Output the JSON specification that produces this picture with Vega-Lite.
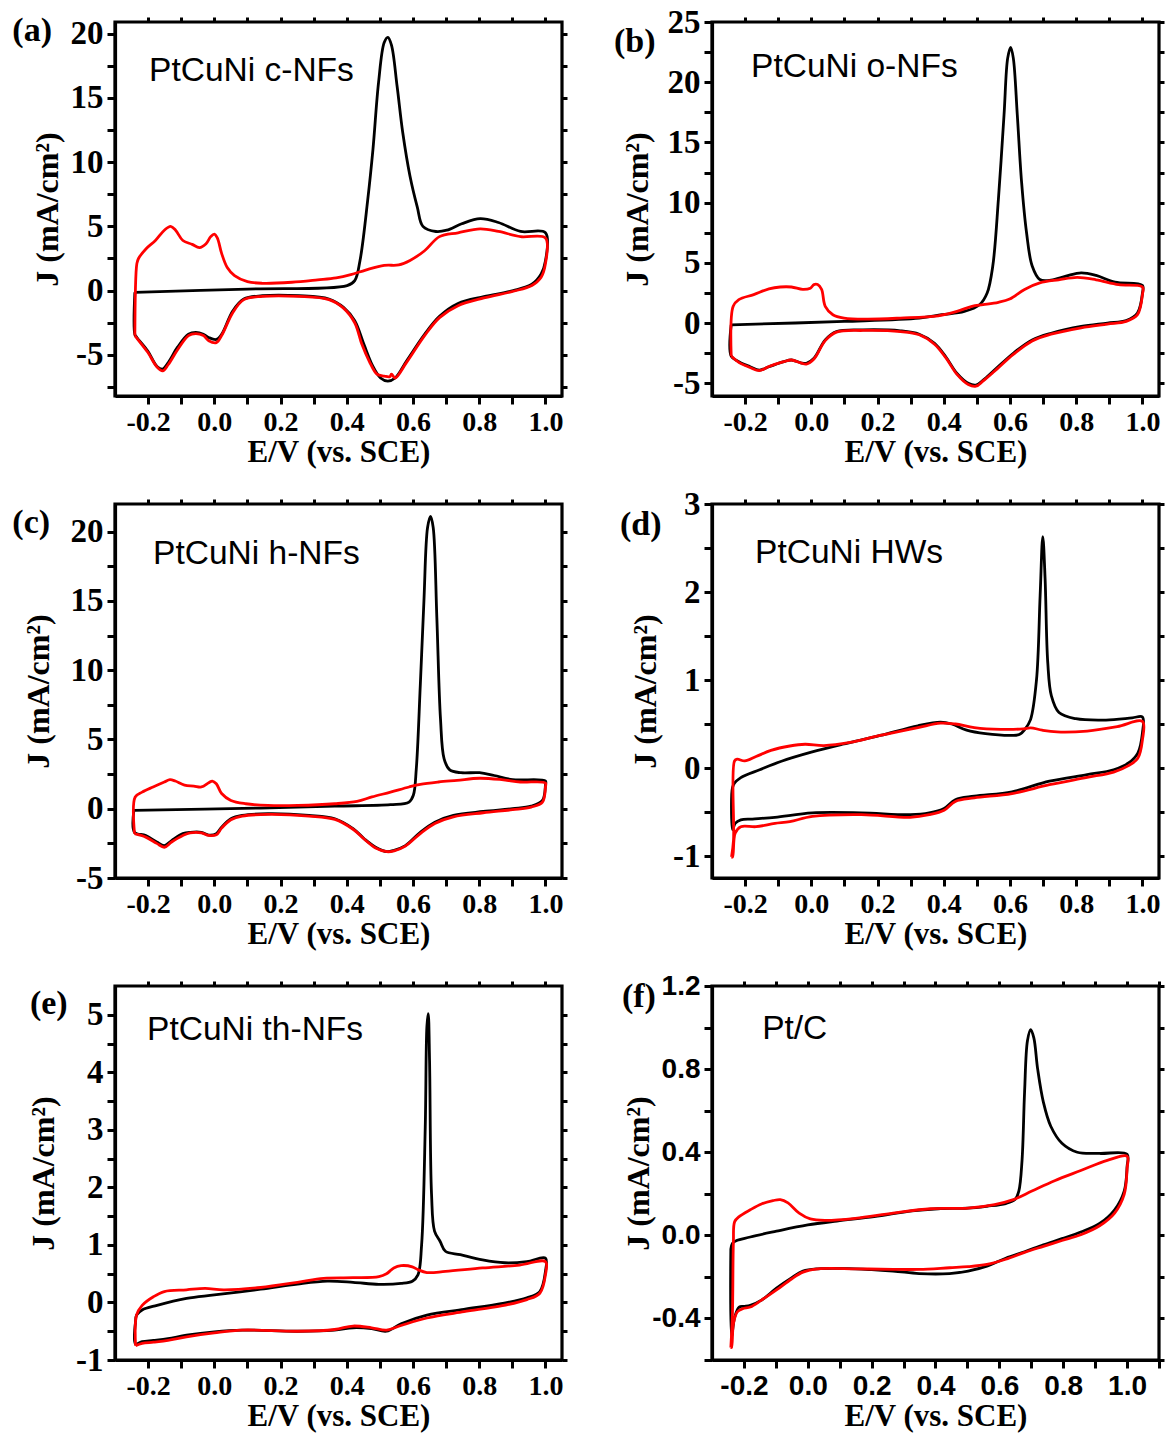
{
"$schema": "https://vega.github.io/schema/vega-lite/v6.json",
"background": "white",
"padding": {"left": 10, "top": 4, "right": 5, "bottom": 5},
"bounds": "flush",
"columns": 2,
"spacing": {"row": 108, "column": 150},
"config": {
 "view": {"stroke": "#000000", "strokeWidth": 3.2},
 "line": {"interpolate": "catmull-rom"},
 "axis": {"grid": false, "domainColor": "#000000", "domainWidth": 3.2, "tickColor": "#000000", "tickWidth": 3, "tickSize": 8,
  "labelFont": "Liberation Serif", "labelFontWeight": "bold", "labelFontSize": 28, "labelColor": "#000000", "labelPadding": 4, "labelOverlap": false, "labelFlush": false,
  "titleFont": "Liberation Serif", "titleFontWeight": "bold", "titleFontSize": 31, "titleColor": "#000000", "titlePadding": 1},
 "axisY": {"labelFontSize": 33, "titleFontSize": 32}
},
"datasets": {
 "ak": [{"e":-0.24,"j":-0.13},{"e":0.1,"j":0.12},{"e":0.401,"j":0.39},{"e":0.424,"j":0.78},{"e":0.44,"j":2.35},{"e":0.463,"j":7.0},{"e":0.479,"j":10.97},{"e":0.496,"j":16.2},{"e":0.513,"j":19.3},{"e":0.524,"j":19.7},{"e":0.535,"j":19.1},{"e":0.552,"j":15.9},{"e":0.569,"j":12.3},{"e":0.591,"j":8.9},{"e":0.613,"j":6.5},{"e":0.63,"j":5.0},{"e":0.669,"j":4.6},{"e":0.702,"j":4.7},{"e":0.747,"j":5.2},{"e":0.803,"j":5.6},{"e":0.858,"j":5.3},{"e":0.925,"j":4.6},{"e":1.0,"j":4.5},{"e":1.0,"j":2.3},{"e":0.987,"j":1.3},{"e":0.959,"j":0.5},{"e":0.903,"j":0.0},{"e":0.814,"j":-0.47},{"e":0.736,"j":-1.0},{"e":0.68,"j":-2.0},{"e":0.635,"j":-3.4},{"e":0.58,"j":-5.5},{"e":0.546,"j":-6.8},{"e":0.524,"j":-7.05},{"e":0.502,"j":-6.8},{"e":0.479,"j":-5.9},{"e":0.452,"j":-4.2},{"e":0.424,"j":-2.35},{"e":0.39,"j":-1.3},{"e":0.346,"j":-0.65},{"e":0.256,"j":-0.4},{"e":0.145,"j":-0.4},{"e":0.089,"j":-0.65},{"e":0.056,"j":-1.57},{"e":0.022,"j":-3.4},{"e":0.006,"j":-3.8},{"e":-0.017,"j":-3.65},{"e":-0.033,"j":-3.4},{"e":-0.056,"j":-3.26},{"e":-0.078,"j":-3.4},{"e":-0.111,"j":-4.4},{"e":-0.139,"j":-5.6},{"e":-0.156,"j":-6.1},{"e":-0.173,"j":-5.9},{"e":-0.201,"j":-4.7},{"e":-0.234,"j":-3.65},{"e":-0.24,"j":-3.4},{"e":-0.24,"j":-0.13}],
 "ar": [{"e":-0.24,"j":-3.5},{"e":-0.234,"j":2.1},{"e":-0.229,"j":2.5},{"e":-0.206,"j":3.26},{"e":-0.178,"j":3.9},{"e":-0.151,"j":4.7},{"e":-0.132,"j":5.0},{"e":-0.117,"j":4.7},{"e":-0.095,"j":3.9},{"e":-0.067,"j":3.6},{"e":-0.045,"j":3.35},{"e":-0.025,"j":3.65},{"e":-0.011,"j":4.2},{"e":0.0,"j":4.4},{"e":0.009,"j":4.1},{"e":0.022,"j":2.9},{"e":0.039,"j":1.8},{"e":0.061,"j":1.17},{"e":0.1,"j":0.7},{"e":0.145,"j":0.57},{"e":0.234,"j":0.65},{"e":0.312,"j":0.84},{"e":0.368,"j":1.0},{"e":0.412,"j":1.25},{"e":0.457,"j":1.6},{"e":0.513,"j":1.96},{"e":0.557,"j":2.0},{"e":0.591,"j":2.35},{"e":0.635,"j":3.1},{"e":0.68,"j":4.2},{"e":0.736,"j":4.5},{"e":0.803,"j":4.8},{"e":0.858,"j":4.6},{"e":0.925,"j":4.2},{"e":1.0,"j":4.1},{"e":1.0,"j":2.1},{"e":0.987,"j":1.04},{"e":0.959,"j":0.4},{"e":0.903,"j":-0.05},{"e":0.814,"j":-0.57},{"e":0.736,"j":-1.17},{"e":0.68,"j":-2.1},{"e":0.635,"j":-3.5},{"e":0.58,"j":-5.6},{"e":0.546,"j":-6.8},{"e":0.535,"j":-6.5},{"e":0.53,"j":-6.7},{"e":0.513,"j":-6.65},{"e":0.491,"j":-6.5},{"e":0.468,"j":-5.5},{"e":0.446,"j":-4.2},{"e":0.424,"j":-2.5},{"e":0.39,"j":-1.36},{"e":0.346,"j":-0.7},{"e":0.256,"j":-0.45},{"e":0.145,"j":-0.45},{"e":0.089,"j":-0.7},{"e":0.056,"j":-1.7},{"e":0.022,"j":-3.5},{"e":0.006,"j":-4.05},{"e":-0.017,"j":-3.9},{"e":-0.033,"j":-3.5},{"e":-0.056,"j":-3.35},{"e":-0.078,"j":-3.5},{"e":-0.111,"j":-4.6},{"e":-0.139,"j":-5.75},{"e":-0.156,"j":-6.25},{"e":-0.173,"j":-5.95},{"e":-0.201,"j":-4.8},{"e":-0.234,"j":-3.7},{"e":-0.24,"j":-3.5}],
 "bk": [{"e":-0.242,"j":-0.14},{"e":0.099,"j":0.14},{"e":0.326,"j":0.42},{"e":0.394,"j":0.7},{"e":0.462,"j":0.97},{"e":0.508,"j":1.53},{"e":0.531,"j":2.5},{"e":0.548,"j":4.74},{"e":0.565,"j":10.3},{"e":0.582,"j":17.3},{"e":0.593,"j":22.0},{"e":0.602,"j":22.9},{"e":0.61,"j":22.0},{"e":0.622,"j":17.3},{"e":0.635,"j":11.7},{"e":0.65,"j":7.5},{"e":0.667,"j":4.74},{"e":0.69,"j":3.62},{"e":0.724,"j":3.57},{"e":0.769,"j":3.9},{"e":0.815,"j":4.18},{"e":0.86,"j":3.96},{"e":0.917,"j":3.4},{"e":1.0,"j":3.12},{"e":1.0,"j":2.5},{"e":0.985,"j":0.84},{"e":0.951,"j":0.22},{"e":0.894,"j":0.0},{"e":0.815,"j":-0.28},{"e":0.724,"j":-0.84},{"e":0.667,"j":-1.39},{"e":0.61,"j":-2.5},{"e":0.553,"j":-3.9},{"e":0.519,"j":-4.74},{"e":0.497,"j":-5.15},{"e":0.474,"j":-5.0},{"e":0.44,"j":-4.18},{"e":0.406,"j":-2.79},{"e":0.372,"j":-1.67},{"e":0.326,"j":-0.92},{"e":0.269,"j":-0.64},{"e":0.156,"j":-0.56},{"e":0.076,"j":-0.7},{"e":0.042,"j":-1.39},{"e":0.008,"j":-2.92},{"e":-0.015,"j":-3.34},{"e":-0.032,"j":-3.29},{"e":-0.06,"j":-3.06},{"e":-0.083,"j":-3.2},{"e":-0.128,"j":-3.62},{"e":-0.157,"j":-3.9},{"e":-0.185,"j":-3.62},{"e":-0.219,"j":-3.2},{"e":-0.242,"j":-2.73},{"e":-0.242,"j":-0.14}],
 "br": [{"e":-0.242,"j":-2.73},{"e":-0.236,"j":1.4},{"e":-0.219,"j":1.95},{"e":-0.174,"j":2.37},{"e":-0.128,"j":2.84},{"e":-0.094,"j":3.0},{"e":-0.06,"j":3.0},{"e":-0.026,"j":2.8},{"e":-0.003,"j":2.9},{"e":0.008,"j":3.2},{"e":0.019,"j":3.2},{"e":0.031,"j":2.8},{"e":0.042,"j":1.4},{"e":0.065,"j":0.7},{"e":0.099,"j":0.42},{"e":0.167,"j":0.33},{"e":0.269,"j":0.42},{"e":0.383,"j":0.61},{"e":0.44,"j":0.97},{"e":0.485,"j":1.4},{"e":0.519,"j":1.53},{"e":0.565,"j":1.73},{"e":0.599,"j":2.0},{"e":0.644,"j":2.8},{"e":0.69,"j":3.34},{"e":0.747,"j":3.6},{"e":0.803,"j":3.8},{"e":0.86,"j":3.6},{"e":0.928,"j":3.2},{"e":1.0,"j":3.0},{"e":1.0,"j":2.37},{"e":0.985,"j":0.7},{"e":0.951,"j":0.14},{"e":0.894,"j":-0.08},{"e":0.815,"j":-0.39},{"e":0.724,"j":-0.92},{"e":0.667,"j":-1.48},{"e":0.61,"j":-2.6},{"e":0.553,"j":-4.0},{"e":0.519,"j":-4.8},{"e":0.497,"j":-5.24},{"e":0.474,"j":-5.1},{"e":0.44,"j":-4.26},{"e":0.406,"j":-2.87},{"e":0.372,"j":-1.75},{"e":0.326,"j":-0.97},{"e":0.269,"j":-0.7},{"e":0.156,"j":-0.61},{"e":0.076,"j":-0.75},{"e":0.042,"j":-1.45},{"e":0.008,"j":-2.98},{"e":-0.015,"j":-3.4},{"e":-0.032,"j":-3.3},{"e":-0.06,"j":-3.06},{"e":-0.083,"j":-3.2},{"e":-0.128,"j":-3.6},{"e":-0.157,"j":-3.95},{"e":-0.185,"j":-3.68},{"e":-0.219,"j":-3.26},{"e":-0.242,"j":-2.73}],
 "ck": [{"e":-0.243,"j":-0.12},{"e":0.14,"j":0.05},{"e":0.364,"j":0.19},{"e":0.532,"j":0.29},{"e":0.588,"j":0.48},{"e":0.601,"j":0.97},{"e":0.61,"j":2.9},{"e":0.622,"j":8.9},{"e":0.633,"j":15.0},{"e":0.644,"j":20.3},{"e":0.653,"j":21.1},{"e":0.661,"j":20.3},{"e":0.672,"j":13.8},{"e":0.683,"j":6.5},{"e":0.694,"j":3.6},{"e":0.711,"j":2.8},{"e":0.745,"j":2.6},{"e":0.801,"j":2.6},{"e":0.845,"j":2.4},{"e":0.901,"j":2.1},{"e":1.0,"j":2.0},{"e":1.0,"j":1.7},{"e":0.991,"j":0.6},{"e":0.957,"j":0.19},{"e":0.901,"j":0.0},{"e":0.812,"j":-0.2},{"e":0.722,"j":-0.48},{"e":0.666,"j":-0.97},{"e":0.622,"j":-1.7},{"e":0.577,"j":-2.66},{"e":0.543,"j":-3.0},{"e":0.521,"j":-3.1},{"e":0.487,"j":-2.78},{"e":0.454,"j":-2.2},{"e":0.42,"j":-1.45},{"e":0.364,"j":-0.72},{"e":0.286,"j":-0.48},{"e":0.162,"j":-0.36},{"e":0.084,"j":-0.48},{"e":0.05,"j":-0.72},{"e":0.022,"j":-1.33},{"e":0.006,"j":-1.8},{"e":-0.017,"j":-1.9},{"e":-0.039,"j":-1.7},{"e":-0.073,"j":-1.7},{"e":-0.095,"j":-1.8},{"e":-0.129,"j":-2.3},{"e":-0.151,"j":-2.66},{"e":-0.174,"j":-2.4},{"e":-0.207,"j":-1.93},{"e":-0.241,"j":-1.7},{"e":-0.243,"j":-0.12}],
 "cr": [{"e":-0.241,"j":-1.8},{"e":-0.239,"j":0.85},{"e":-0.218,"j":1.2},{"e":-0.185,"j":1.57},{"e":-0.151,"j":1.93},{"e":-0.134,"j":2.1},{"e":-0.118,"j":2.0},{"e":-0.09,"j":1.7},{"e":-0.062,"j":1.64},{"e":-0.039,"j":1.57},{"e":-0.017,"j":1.88},{"e":-0.006,"j":2.0},{"e":0.006,"j":1.8},{"e":0.022,"j":1.1},{"e":0.05,"j":0.6},{"e":0.095,"j":0.36},{"e":0.162,"j":0.24},{"e":0.252,"j":0.24},{"e":0.364,"j":0.36},{"e":0.431,"j":0.53},{"e":0.476,"j":0.85},{"e":0.532,"j":1.2},{"e":0.588,"j":1.57},{"e":0.622,"j":1.76},{"e":0.677,"j":1.93},{"e":0.733,"j":2.05},{"e":0.801,"j":2.2},{"e":0.868,"j":2.1},{"e":0.924,"j":1.93},{"e":1.0,"j":1.86},{"e":1.0,"j":1.57},{"e":0.991,"j":0.48},{"e":0.957,"j":0.12},{"e":0.901,"j":-0.07},{"e":0.812,"j":-0.29},{"e":0.722,"j":-0.58},{"e":0.666,"j":-1.06},{"e":0.622,"j":-1.79},{"e":0.577,"j":-2.7},{"e":0.543,"j":-3.04},{"e":0.521,"j":-3.1},{"e":0.487,"j":-2.83},{"e":0.454,"j":-2.22},{"e":0.42,"j":-1.5},{"e":0.364,"j":-0.77},{"e":0.286,"j":-0.53},{"e":0.162,"j":-0.41},{"e":0.084,"j":-0.53},{"e":0.05,"j":-0.8},{"e":0.022,"j":-1.4},{"e":0.006,"j":-1.88},{"e":-0.017,"j":-1.93},{"e":-0.039,"j":-1.74},{"e":-0.073,"j":-1.74},{"e":-0.095,"j":-1.93},{"e":-0.129,"j":-2.4},{"e":-0.151,"j":-2.78},{"e":-0.174,"j":-2.5},{"e":-0.207,"j":-2.05},{"e":-0.241,"j":-1.8}],
 "dk": [{"e":-0.241,"j":-0.36},{"e":-0.235,"j":-0.19},{"e":-0.213,"j":-0.11},{"e":-0.156,"j":-0.02},{"e":-0.088,"j":0.08},{"e":0.0,"j":0.18},{"e":0.094,"j":0.27},{"e":0.208,"j":0.37},{"e":0.322,"j":0.48},{"e":0.39,"j":0.52},{"e":0.424,"j":0.5},{"e":0.469,"j":0.43},{"e":0.526,"j":0.39},{"e":0.606,"j":0.37},{"e":0.628,"j":0.38},{"e":0.645,"j":0.44},{"e":0.662,"j":0.55},{"e":0.68,"j":1.0},{"e":0.691,"j":1.96},{"e":0.699,"j":2.63},{"e":0.706,"j":2.15},{"e":0.714,"j":1.2},{"e":0.725,"j":0.82},{"e":0.748,"j":0.63},{"e":0.799,"j":0.56},{"e":0.89,"j":0.545},{"e":0.969,"j":0.57},{"e":1.0,"j":0.58},{"e":1.0,"j":0.4},{"e":0.986,"j":0.17},{"e":0.958,"j":0.057},{"e":0.913,"j":-0.02},{"e":0.833,"j":-0.076},{"e":0.719,"j":-0.15},{"e":0.606,"j":-0.27},{"e":0.492,"j":-0.32},{"e":0.435,"j":-0.36},{"e":0.401,"j":-0.46},{"e":0.356,"j":-0.51},{"e":0.299,"j":-0.53},{"e":0.151,"j":-0.51},{"e":0.003,"j":-0.51},{"e":-0.11,"j":-0.56},{"e":-0.178,"j":-0.58},{"e":-0.213,"j":-0.59},{"e":-0.23,"j":-0.63},{"e":-0.238,"j":-0.7},{"e":-0.241,"j":-0.36}],
 "dr": [{"e":-0.241,"j":-1.01},{"e":-0.235,"j":-0.82},{"e":-0.232,"j":0.08},{"e":-0.224,"j":0.1},{"e":-0.201,"j":0.08},{"e":-0.167,"j":0.13},{"e":-0.122,"j":0.2},{"e":-0.065,"j":0.25},{"e":-0.019,"j":0.27},{"e":0.038,"j":0.255},{"e":0.117,"j":0.29},{"e":0.208,"j":0.37},{"e":0.322,"j":0.46},{"e":0.39,"j":0.51},{"e":0.435,"j":0.5},{"e":0.492,"j":0.46},{"e":0.572,"j":0.44},{"e":0.64,"j":0.445},{"e":0.662,"j":0.457},{"e":0.697,"j":0.43},{"e":0.742,"j":0.41},{"e":0.833,"j":0.42},{"e":0.924,"j":0.47},{"e":1.0,"j":0.53},{"e":1.0,"j":0.32},{"e":0.986,"j":0.11},{"e":0.958,"j":0.027},{"e":0.913,"j":-0.046},{"e":0.833,"j":-0.107},{"e":0.719,"j":-0.19},{"e":0.606,"j":-0.29},{"e":0.492,"j":-0.34},{"e":0.435,"j":-0.38},{"e":0.401,"j":-0.48},{"e":0.356,"j":-0.53},{"e":0.299,"j":-0.56},{"e":0.151,"j":-0.53},{"e":0.003,"j":-0.55},{"e":-0.065,"j":-0.61},{"e":-0.11,"j":-0.63},{"e":-0.167,"j":-0.667},{"e":-0.213,"j":-0.667},{"e":-0.23,"j":-0.74},{"e":-0.238,"j":-1.01},{"e":-0.241,"j":-1.01}],
 "ek": [{"e":-0.238,"j":-0.34},{"e":-0.235,"j":-0.22},{"e":-0.218,"j":-0.13},{"e":-0.173,"j":-0.05},{"e":-0.084,"j":0.07},{"e":0.0,"j":0.13},{"e":0.14,"j":0.23},{"e":0.251,"j":0.32},{"e":0.341,"j":0.37},{"e":0.419,"j":0.35},{"e":0.497,"j":0.315},{"e":0.564,"j":0.33},{"e":0.598,"j":0.37},{"e":0.615,"j":0.48},{"e":0.626,"j":1.0},{"e":0.637,"j":3.05},{"e":0.642,"j":4.8},{"e":0.646,"j":5.02},{"e":0.65,"j":4.2},{"e":0.656,"j":1.88},{"e":0.665,"j":1.24},{"e":0.682,"j":1.06},{"e":0.698,"j":0.89},{"e":0.743,"j":0.83},{"e":0.81,"j":0.74},{"e":0.877,"j":0.69},{"e":0.944,"j":0.71},{"e":1.0,"j":0.77},{"e":1.0,"j":0.54},{"e":0.983,"j":0.19},{"e":0.944,"j":0.08},{"e":0.866,"j":-0.02},{"e":0.754,"j":-0.12},{"e":0.642,"j":-0.22},{"e":0.564,"j":-0.37},{"e":0.52,"j":-0.5},{"e":0.475,"j":-0.455},{"e":0.419,"j":-0.44},{"e":0.363,"j":-0.48},{"e":0.251,"j":-0.5},{"e":0.084,"j":-0.48},{"e":0.0,"j":-0.51},{"e":-0.084,"j":-0.57},{"e":-0.14,"j":-0.63},{"e":-0.184,"j":-0.66},{"e":-0.218,"j":-0.68},{"e":-0.238,"j":-0.72},{"e":-0.238,"j":-0.34}],
 "er": [{"e":-0.238,"j":-0.75},{"e":-0.235,"j":-0.22},{"e":-0.218,"j":-0.05},{"e":-0.184,"j":0.1},{"e":-0.151,"j":0.19},{"e":-0.084,"j":0.22},{"e":-0.028,"j":0.245},{"e":0.028,"j":0.22},{"e":0.14,"j":0.26},{"e":0.251,"j":0.35},{"e":0.33,"j":0.42},{"e":0.419,"j":0.43},{"e":0.497,"j":0.45},{"e":0.52,"j":0.5},{"e":0.542,"j":0.6},{"e":0.564,"j":0.64},{"e":0.598,"j":0.62},{"e":0.615,"j":0.57},{"e":0.642,"j":0.52},{"e":0.698,"j":0.54},{"e":0.81,"j":0.6},{"e":0.922,"j":0.65},{"e":1.0,"j":0.71},{"e":1.0,"j":0.48},{"e":0.983,"j":0.16},{"e":0.944,"j":0.05},{"e":0.866,"j":-0.06},{"e":0.754,"j":-0.16},{"e":0.642,"j":-0.27},{"e":0.564,"j":-0.4},{"e":0.52,"j":-0.48},{"e":0.475,"j":-0.44},{"e":0.419,"j":-0.41},{"e":0.363,"j":-0.47},{"e":0.251,"j":-0.5},{"e":0.084,"j":-0.48},{"e":0.0,"j":-0.53},{"e":-0.084,"j":-0.6},{"e":-0.14,"j":-0.66},{"e":-0.184,"j":-0.69},{"e":-0.218,"j":-0.71},{"e":-0.238,"j":-0.75}],
 "fk": [{"e":-0.241,"j":-0.066},{"e":-0.233,"j":-0.033},{"e":-0.18,"j":-0.008},{"e":-0.098,"j":0.02},{"e":0.0,"j":0.05},{"e":0.091,"j":0.069},{"e":0.208,"j":0.09},{"e":0.326,"j":0.118},{"e":0.408,"j":0.128},{"e":0.502,"j":0.131},{"e":0.561,"j":0.14},{"e":0.62,"j":0.153},{"e":0.649,"j":0.172},{"e":0.661,"j":0.213},{"e":0.671,"j":0.36},{"e":0.679,"j":0.69},{"e":0.688,"j":0.936},{"e":0.698,"j":0.99},{"e":0.708,"j":0.95},{"e":0.72,"j":0.8},{"e":0.738,"j":0.64},{"e":0.761,"j":0.525},{"e":0.796,"j":0.443},{"e":0.844,"j":0.4},{"e":0.914,"j":0.394},{"e":1.0,"j":0.39},{"e":1.0,"j":0.33},{"e":0.991,"j":0.213},{"e":0.961,"j":0.123},{"e":0.914,"j":0.057},{"e":0.855,"j":0.016},{"e":0.796,"j":-0.016},{"e":0.738,"j":-0.046},{"e":0.679,"j":-0.079},{"e":0.62,"j":-0.11},{"e":0.561,"j":-0.148},{"e":0.502,"j":-0.172},{"e":0.444,"j":-0.184},{"e":0.349,"j":-0.184},{"e":0.267,"j":-0.172},{"e":0.149,"j":-0.161},{"e":0.032,"j":-0.161},{"e":-0.015,"j":-0.172},{"e":-0.051,"j":-0.205},{"e":-0.098,"j":-0.254},{"e":-0.145,"j":-0.312},{"e":-0.18,"j":-0.337},{"e":-0.198,"j":-0.342},{"e":-0.215,"j":-0.345},{"e":-0.229,"j":-0.394},{"e":-0.239,"j":-0.49},{"e":-0.241,"j":-0.066}],
 "fr": [{"e":-0.241,"j":-0.54},{"e":-0.236,"j":-0.378},{"e":-0.233,"j":-0.033},{"e":-0.229,"j":0.066},{"e":-0.215,"j":0.09},{"e":-0.18,"j":0.123},{"e":-0.145,"j":0.151},{"e":-0.109,"j":0.167},{"e":-0.086,"j":0.172},{"e":-0.062,"j":0.156},{"e":-0.027,"j":0.107},{"e":0.008,"j":0.079},{"e":0.055,"j":0.072},{"e":0.149,"j":0.082},{"e":0.267,"j":0.107},{"e":0.385,"j":0.128},{"e":0.502,"j":0.131},{"e":0.585,"j":0.148},{"e":0.644,"j":0.172},{"e":0.702,"j":0.213},{"e":0.773,"j":0.263},{"e":0.855,"j":0.312},{"e":0.938,"j":0.361},{"e":1.0,"j":0.381},{"e":1.0,"j":0.32},{"e":0.991,"j":0.197},{"e":0.961,"j":0.107},{"e":0.914,"j":0.046},{"e":0.855,"j":0.003},{"e":0.796,"j":-0.025},{"e":0.738,"j":-0.053},{"e":0.679,"j":-0.082},{"e":0.62,"j":-0.115},{"e":0.561,"j":-0.14},{"e":0.502,"j":-0.151},{"e":0.444,"j":-0.156},{"e":0.349,"j":-0.164},{"e":0.267,"j":-0.164},{"e":0.149,"j":-0.161},{"e":0.032,"j":-0.161},{"e":-0.015,"j":-0.177},{"e":-0.051,"j":-0.21},{"e":-0.098,"j":-0.263},{"e":-0.145,"j":-0.312},{"e":-0.18,"j":-0.345},{"e":-0.204,"j":-0.353},{"e":-0.221,"j":-0.369},{"e":-0.233,"j":-0.427},{"e":-0.239,"j":-0.54},{"e":-0.241,"j":-0.54}]
},
"concat": [
  {"width": 447, "height": 374, "resolve": {"axis": {"x": "independent", "y": "independent"}},
   "layer": [
    {"data": {"name": "ak"}, "mark": {"type": "line", "color": "#000000", "strokeWidth": 2.8},
     "encoding": {"x": {"field": "e", "type": "quantitative", "scale": {"domain": [-0.3, 1.05], "nice": false, "zero": false},
        "axis": {"title": "E/V (vs. SCE)", "values": [-0.2,-0.1,0,0.1,0.2,0.3,0.4,0.5,0.6,0.7,0.8,0.9,1.0], "labelExpr": "abs(round(datum.value*10)) % 2 == 0 ? (datum.value < -0.001 ? '-' : '') + format(abs(datum.value), '.1f') : ''"}},
      "y": {"field": "j", "type": "quantitative", "scale": {"domain": [-8.2, 20.9], "nice": false, "zero": false},
        "axis": {"title": "J (mA/cm²)", "titlePadding": 6, "values": [-7.5,-5,-2.5,0,2.5,5,7.5,10,12.5,15,17.5,20], "labelExpr": "datum.value % 5 == 0 ? (datum.value < 0 ? '-' : '') + abs(datum.value) : ''"}},
      "order": {"value": null}}},
    {"data": {"name": "ar"}, "mark": {"type": "line", "color": "#ff0000", "strokeWidth": 2.8},
     "encoding": {"x": {"field": "e", "type": "quantitative", "axis": null}, "y": {"field": "j", "type": "quantitative", "axis": null}, "order": {"value": null}}},
    {"data": {"values": [{"e": -0.197, "j": 17.1, "t": "PtCuNi c-NFs"}]}, "mark": {"type": "text", "align": "left", "baseline": "middle", "font": "Liberation Sans", "fontSize": 33.5, "color": "#000000"},
     "encoding": {"x": {"field": "e", "type": "quantitative", "axis": {"orient": "top", "title": null, "labels": false, "domain": false, "tickSize": 5, "values": [-0.2,-0.1,0,0.1,0.2,0.3,0.4,0.5,0.6,0.7,0.8,0.9,1.0]}},
      "y": {"field": "j", "type": "quantitative", "axis": {"orient": "right", "title": null, "labels": false, "domain": false, "tickSize": 5, "values": [-7.5,-5,-2.5,0,2.5,5,7.5,10,12.5,15,17.5,20]}}, "text": {"field": "t"}}},
    {"data": {"values": [{"e": -0.61, "j": 20.2, "t": "(a)"}]}, "mark": {"type": "text", "align": "left", "baseline": "middle", "font": "Liberation Serif", "fontWeight": "bold", "fontSize": 34, "color": "#000000"},
     "encoding": {"x": {"field": "e", "type": "quantitative", "axis": null}, "y": {"field": "j", "type": "quantitative", "axis": null}, "text": {"field": "t"}}}
   ]},
  {"width": 447, "height": 374, "resolve": {"axis": {"x": "independent", "y": "independent"}},
   "layer": [
    {"data": {"name": "bk"}, "mark": {"type": "line", "color": "#000000", "strokeWidth": 2.8},
     "encoding": {"x": {"field": "e", "type": "quantitative", "scale": {"domain": [-0.3, 1.05], "nice": false, "zero": false},
        "axis": {"title": "E/V (vs. SCE)", "values": [-0.2,-0.1,0,0.1,0.2,0.3,0.4,0.5,0.6,0.7,0.8,0.9,1.0], "labelExpr": "abs(round(datum.value*10)) % 2 == 0 ? (datum.value < -0.001 ? '-' : '') + format(abs(datum.value), '.1f') : ''"}},
      "y": {"field": "j", "type": "quantitative", "scale": {"domain": [-6.05, 25], "nice": false, "zero": false},
        "axis": {"title": "J (mA/cm²)", "titlePadding": 13, "values": [-5,-2.5,0,2.5,5,7.5,10,12.5,15,17.5,20,22.5,25], "labelExpr": "datum.value % 5 == 0 ? (datum.value < 0 ? '-' : '') + abs(datum.value) : ''"}},
      "order": {"value": null}}},
    {"data": {"name": "br"}, "mark": {"type": "line", "color": "#ff0000", "strokeWidth": 2.8},
     "encoding": {"x": {"field": "e", "type": "quantitative", "axis": null}, "y": {"field": "j", "type": "quantitative", "axis": null}, "order": {"value": null}}},
    {"data": {"values": [{"e": -0.182, "j": 21.27, "t": "PtCuNi o-NFs"}]}, "mark": {"type": "text", "align": "left", "baseline": "middle", "font": "Liberation Sans", "fontSize": 33.5, "color": "#000000"},
     "encoding": {"x": {"field": "e", "type": "quantitative", "axis": {"orient": "top", "title": null, "labels": false, "domain": false, "tickSize": 5, "values": [-0.2,-0.1,0,0.1,0.2,0.3,0.4,0.5,0.6,0.7,0.8,0.9,1.0]}},
      "y": {"field": "j", "type": "quantitative", "axis": {"orient": "right", "title": null, "labels": false, "domain": false, "tickSize": 5, "values": [-5,-2.5,0,2.5,5,7.5,10,12.5,15,17.5,20,22.5,25]}}, "text": {"field": "t"}}},
    {"data": {"values": [{"e": -0.596, "j": 23.3, "t": "(b)"}]}, "mark": {"type": "text", "align": "left", "baseline": "middle", "font": "Liberation Serif", "fontWeight": "bold", "fontSize": 34, "color": "#000000"},
     "encoding": {"x": {"field": "e", "type": "quantitative", "axis": null}, "y": {"field": "j", "type": "quantitative", "axis": null}, "text": {"field": "t"}}}
   ]},
  {"width": 447, "height": 374, "resolve": {"axis": {"x": "independent", "y": "independent"}},
   "layer": [
    {"data": {"name": "ck"}, "mark": {"type": "line", "color": "#000000", "strokeWidth": 2.8},
     "encoding": {"x": {"field": "e", "type": "quantitative", "scale": {"domain": [-0.3, 1.05], "nice": false, "zero": false},
        "axis": {"title": "E/V (vs. SCE)", "values": [-0.2,-0.1,0,0.1,0.2,0.3,0.4,0.5,0.6,0.7,0.8,0.9,1.0], "labelExpr": "abs(round(datum.value*10)) % 2 == 0 ? (datum.value < -0.001 ? '-' : '') + format(abs(datum.value), '.1f') : ''"}},
      "y": {"field": "j", "type": "quantitative", "scale": {"domain": [-5, 22], "nice": false, "zero": false},
        "axis": {"title": "J (mA/cm²)", "titlePadding": 15, "values": [-5,-2.5,0,2.5,5,7.5,10,12.5,15,17.5,20], "labelExpr": "datum.value % 5 == 0 ? (datum.value < 0 ? '-' : '') + abs(datum.value) : ''"}},
      "order": {"value": null}}},
    {"data": {"name": "cr"}, "mark": {"type": "line", "color": "#ff0000", "strokeWidth": 2.8},
     "encoding": {"x": {"field": "e", "type": "quantitative", "axis": null}, "y": {"field": "j", "type": "quantitative", "axis": null}, "order": {"value": null}}},
    {"data": {"values": [{"e": -0.185, "j": 18.39, "t": "PtCuNi h-NFs"}]}, "mark": {"type": "text", "align": "left", "baseline": "middle", "font": "Liberation Sans", "fontSize": 33.5, "color": "#000000"},
     "encoding": {"x": {"field": "e", "type": "quantitative", "axis": {"orient": "top", "title": null, "labels": false, "domain": false, "tickSize": 5, "values": [-0.2,-0.1,0,0.1,0.2,0.3,0.4,0.5,0.6,0.7,0.8,0.9,1.0]}},
      "y": {"field": "j", "type": "quantitative", "axis": {"orient": "right", "title": null, "labels": false, "domain": false, "tickSize": 5, "values": [-5,-2.5,0,2.5,5,7.5,10,12.5,15,17.5,20]}}, "text": {"field": "t"}}},
    {"data": {"values": [{"e": -0.61, "j": 20.6, "t": "(c)"}]}, "mark": {"type": "text", "align": "left", "baseline": "middle", "font": "Liberation Serif", "fontWeight": "bold", "fontSize": 34, "color": "#000000"},
     "encoding": {"x": {"field": "e", "type": "quantitative", "axis": null}, "y": {"field": "j", "type": "quantitative", "axis": null}, "text": {"field": "t"}}}
   ]},
  {"width": 447, "height": 374, "resolve": {"axis": {"x": "independent", "y": "independent"}},
   "layer": [
    {"data": {"name": "dk"}, "mark": {"type": "line", "color": "#000000", "strokeWidth": 2.8},
     "encoding": {"x": {"field": "e", "type": "quantitative", "scale": {"domain": [-0.3, 1.05], "nice": false, "zero": false},
        "axis": {"title": "E/V (vs. SCE)", "values": [-0.2,-0.1,0,0.1,0.2,0.3,0.4,0.5,0.6,0.7,0.8,0.9,1.0], "labelExpr": "abs(round(datum.value*10)) % 2 == 0 ? (datum.value < -0.001 ? '-' : '') + format(abs(datum.value), '.1f') : ''"}},
      "y": {"field": "j", "type": "quantitative", "scale": {"domain": [-1.25, 3], "nice": false, "zero": false},
        "axis": {"title": "J (mA/cm²)", "titlePadding": 10, "values": [-1,-0.5,0,0.5,1,1.5,2,2.5,3], "labelExpr": "datum.value % 1 == 0 ? (datum.value < 0 ? '-' : '') + abs(datum.value) : ''"}},
      "order": {"value": null}}},
    {"data": {"name": "dr"}, "mark": {"type": "line", "color": "#ff0000", "strokeWidth": 2.8},
     "encoding": {"x": {"field": "e", "type": "quantitative", "axis": null}, "y": {"field": "j", "type": "quantitative", "axis": null}, "order": {"value": null}}},
    {"data": {"values": [{"e": -0.17, "j": 2.44, "t": "PtCuNi HWs"}]}, "mark": {"type": "text", "align": "left", "baseline": "middle", "font": "Liberation Sans", "fontSize": 33.5, "color": "#000000"},
     "encoding": {"x": {"field": "e", "type": "quantitative", "axis": {"orient": "top", "title": null, "labels": false, "domain": false, "tickSize": 5, "values": [-0.2,-0.1,0,0.1,0.2,0.3,0.4,0.5,0.6,0.7,0.8,0.9,1.0]}},
      "y": {"field": "j", "type": "quantitative", "axis": {"orient": "right", "title": null, "labels": false, "domain": false, "tickSize": 5, "values": [-1,-0.5,0,0.5,1,1.5,2,2.5,3]}}, "text": {"field": "t"}}},
    {"data": {"values": [{"e": -0.578, "j": 2.76, "t": "(d)"}]}, "mark": {"type": "text", "align": "left", "baseline": "middle", "font": "Liberation Serif", "fontWeight": "bold", "fontSize": 34, "color": "#000000"},
     "encoding": {"x": {"field": "e", "type": "quantitative", "axis": null}, "y": {"field": "j", "type": "quantitative", "axis": null}, "text": {"field": "t"}}}
   ]},
  {"width": 447, "height": 374, "resolve": {"axis": {"x": "independent", "y": "independent"}},
   "layer": [
    {"data": {"name": "ek"}, "mark": {"type": "line", "color": "#000000", "strokeWidth": 2.8},
     "encoding": {"x": {"field": "e", "type": "quantitative", "scale": {"domain": [-0.3, 1.05], "nice": false, "zero": false},
        "axis": {"title": "E/V (vs. SCE)", "values": [-0.2,-0.1,0,0.1,0.2,0.3,0.4,0.5,0.6,0.7,0.8,0.9,1.0], "labelExpr": "abs(round(datum.value*10)) % 2 == 0 ? (datum.value < -0.001 ? '-' : '') + format(abs(datum.value), '.1f') : ''"}},
      "y": {"field": "j", "type": "quantitative", "scale": {"domain": [-1, 5.5], "nice": false, "zero": false},
        "axis": {"title": "J (mA/cm²)", "titlePadding": 15, "values": [-1,-0.5,0,0.5,1,1.5,2,2.5,3,3.5,4,4.5,5], "labelExpr": "datum.value % 1 == 0 ? (datum.value < 0 ? '-' : '') + abs(datum.value) : ''"}},
      "order": {"value": null}}},
    {"data": {"name": "er"}, "mark": {"type": "line", "color": "#ff0000", "strokeWidth": 2.8},
     "encoding": {"x": {"field": "e", "type": "quantitative", "axis": null}, "y": {"field": "j", "type": "quantitative", "axis": null}, "order": {"value": null}}},
    {"data": {"values": [{"e": -0.203, "j": 4.73, "t": "PtCuNi th-NFs"}]}, "mark": {"type": "text", "align": "left", "baseline": "middle", "font": "Liberation Sans", "fontSize": 33.5, "color": "#000000"},
     "encoding": {"x": {"field": "e", "type": "quantitative", "axis": {"orient": "top", "title": null, "labels": false, "domain": false, "tickSize": 5, "values": [-0.2,-0.1,0,0.1,0.2,0.3,0.4,0.5,0.6,0.7,0.8,0.9,1.0]}},
      "y": {"field": "j", "type": "quantitative", "axis": {"orient": "right", "title": null, "labels": false, "domain": false, "tickSize": 5, "values": [-1,-0.5,0,0.5,1,1.5,2,2.5,3,3.5,4,4.5,5]}}, "text": {"field": "t"}}},
    {"data": {"values": [{"e": -0.557, "j": 5.19, "t": "(e)"}]}, "mark": {"type": "text", "align": "left", "baseline": "middle", "font": "Liberation Serif", "fontWeight": "bold", "fontSize": 34, "color": "#000000"},
     "encoding": {"x": {"field": "e", "type": "quantitative", "axis": null}, "y": {"field": "j", "type": "quantitative", "axis": null}, "text": {"field": "t"}}}
   ]},
  {"width": 447, "height": 374, "resolve": {"axis": {"x": "independent", "y": "independent"}},
   "layer": [
    {"data": {"name": "fk"}, "mark": {"type": "line", "color": "#000000", "strokeWidth": 2.8},
     "encoding": {"x": {"field": "e", "type": "quantitative", "scale": {"domain": [-0.3, 1.1], "nice": false, "zero": false},
        "axis": {"title": "E/V (vs. SCE)", "labelFont": "Liberation Sans", "values": [-0.2,-0.1,0,0.1,0.2,0.3,0.4,0.5,0.6,0.7,0.8,0.9,1.0,1.1], "labelExpr": "abs(round(datum.value*10)) % 2 == 0 ? (datum.value < -0.001 ? '-' : '') + format(abs(datum.value), '.1f') : ''"}},
      "y": {"field": "j", "type": "quantitative", "scale": {"domain": [-0.6, 1.2], "nice": false, "zero": false},
        "axis": {"title": "J (mA/cm²)", "titlePadding": -4, "labelFont": "Liberation Sans", "labelFontSize": 28, "values": [-0.6,-0.4,-0.2,0,0.2,0.4,0.6,0.8,1.0,1.2], "labelExpr": "abs(round(datum.value*10)) % 4 == 0 ? (datum.value < -0.001 ? '-' : '') + format(abs(datum.value), '.1f') : ''"}},
      "order": {"value": null}}},
    {"data": {"name": "fr"}, "mark": {"type": "line", "color": "#ff0000", "strokeWidth": 2.8},
     "encoding": {"x": {"field": "e", "type": "quantitative", "axis": null}, "y": {"field": "j", "type": "quantitative", "axis": null}, "order": {"value": null}}},
    {"data": {"values": [{"e": -0.143, "j": 0.993, "t": "Pt/C"}]}, "mark": {"type": "text", "align": "left", "baseline": "middle", "font": "Liberation Sans", "fontSize": 33.5, "color": "#000000"},
     "encoding": {"x": {"field": "e", "type": "quantitative", "axis": {"orient": "top", "title": null, "labels": false, "domain": false, "tickSize": 5, "values": [-0.2,-0.1,0,0.1,0.2,0.3,0.4,0.5,0.6,0.7,0.8,0.9,1.0,1.1]}},
      "y": {"field": "j", "type": "quantitative", "axis": {"orient": "right", "title": null, "labels": false, "domain": false, "tickSize": 5, "values": [-0.6,-0.4,-0.2,0,0.2,0.4,0.6,0.8,1.0,1.2]}}, "text": {"field": "t"}}},
    {"data": {"values": [{"e": -0.582, "j": 1.147, "t": "(f)"}]}, "mark": {"type": "text", "align": "left", "baseline": "middle", "font": "Liberation Serif", "fontWeight": "bold", "fontSize": 34, "color": "#000000"},
     "encoding": {"x": {"field": "e", "type": "quantitative", "axis": null}, "y": {"field": "j", "type": "quantitative", "axis": null}, "text": {"field": "t"}}}
   ]}
]
}
